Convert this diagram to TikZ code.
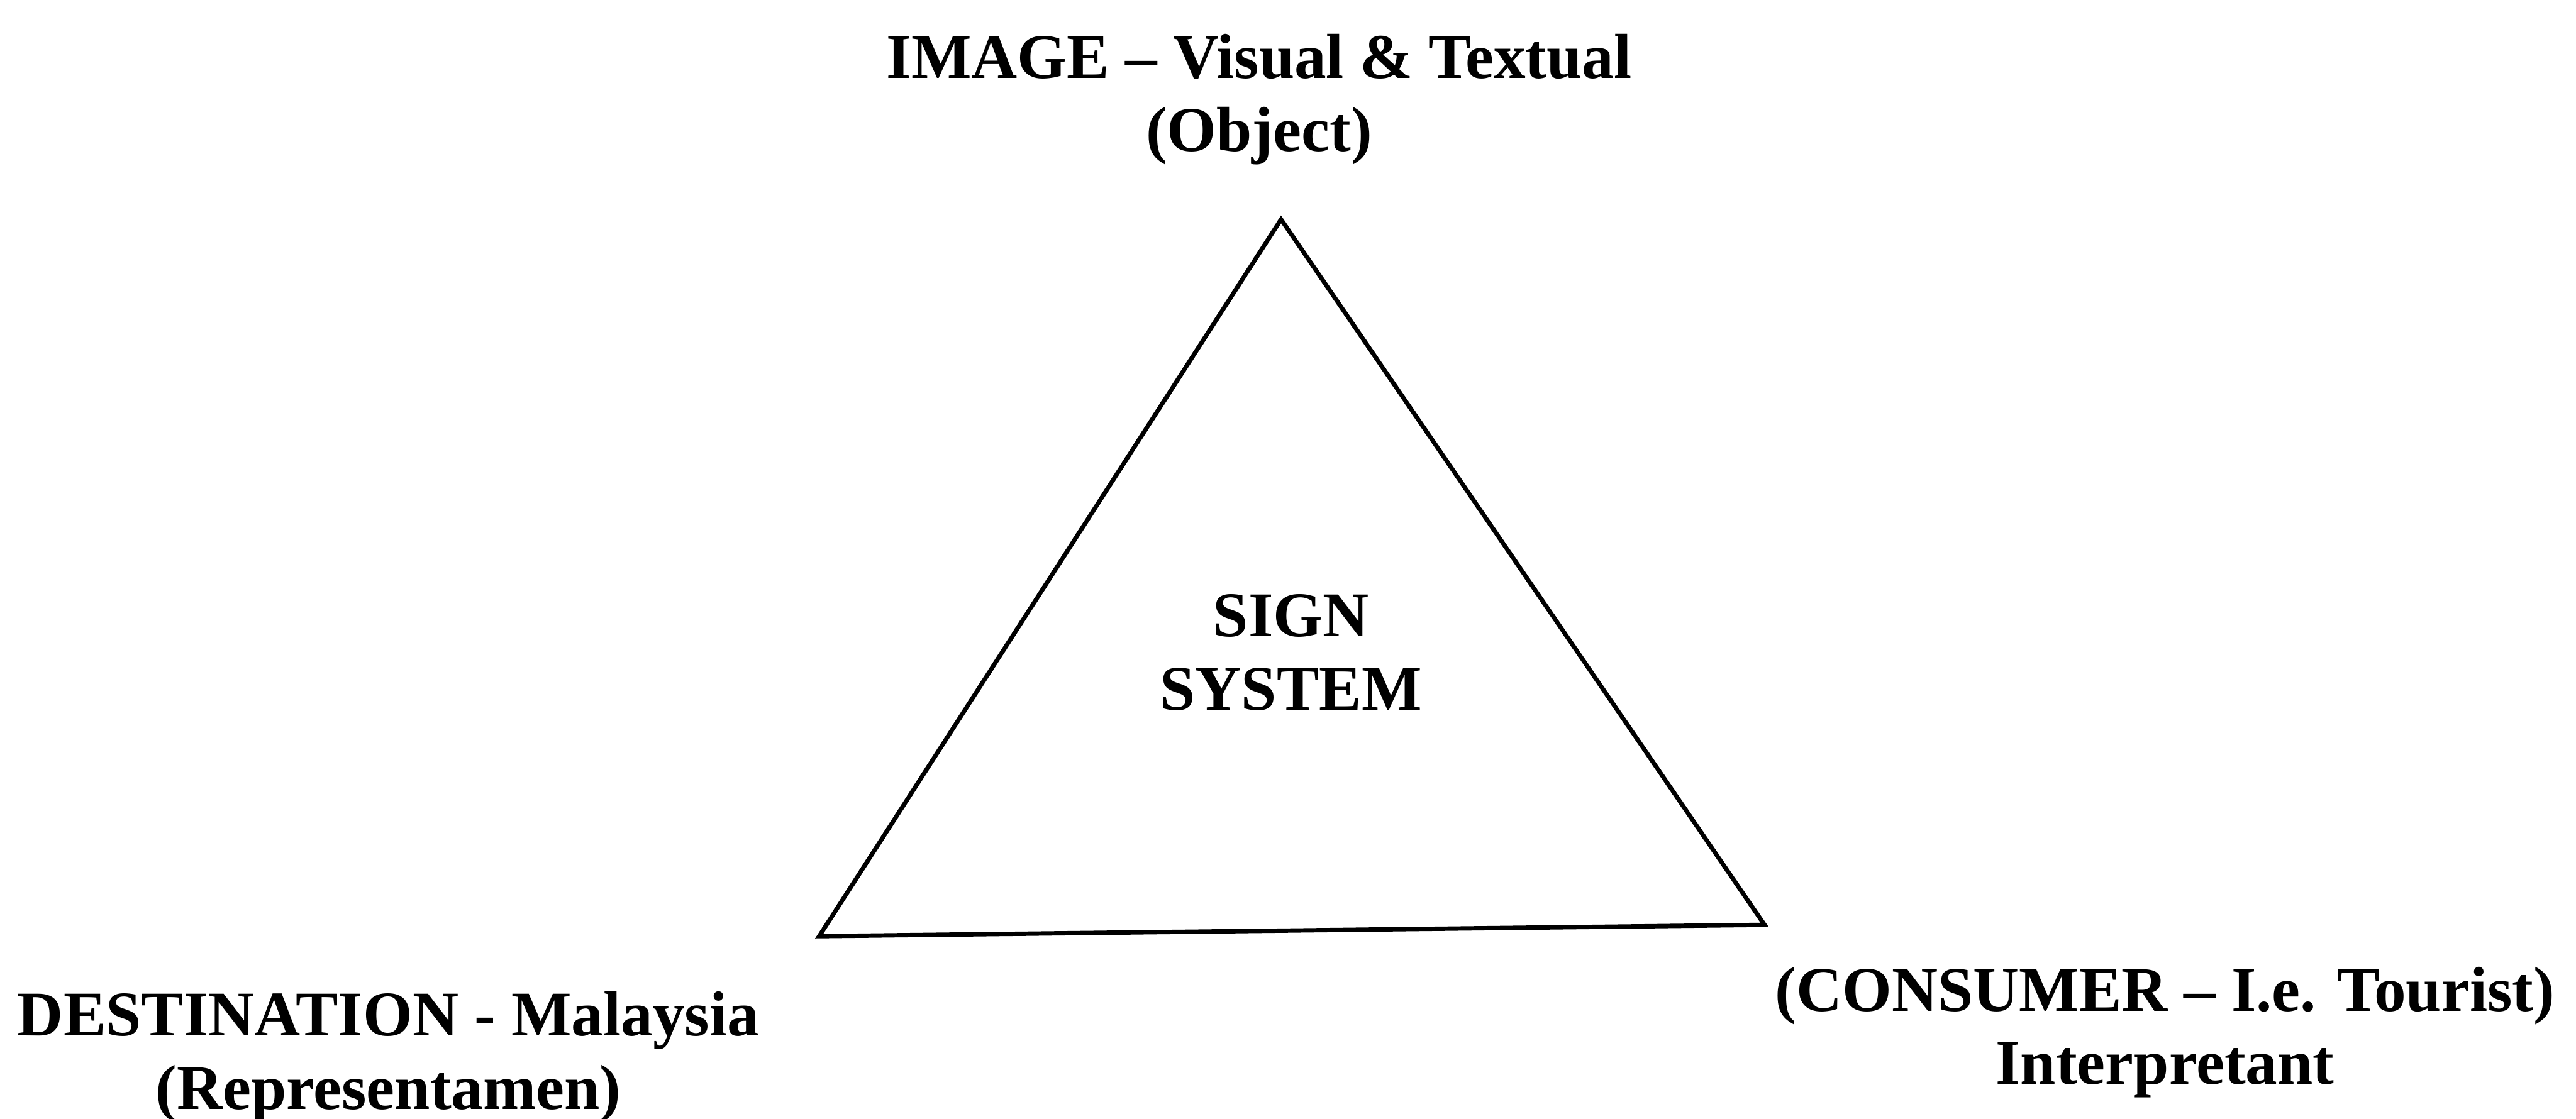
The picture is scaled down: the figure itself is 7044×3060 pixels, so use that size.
\documentclass[tikz,border=0pt]{standalone}
\usepackage{fontspec}
\setmainfont{Liberation Serif}
\begin{document}
\begin{tikzpicture}[x=0.01cm,y=-0.01cm,
  lbl/.style={font=\fontsize{49.5pt}{57pt}\selectfont\bfseries, align=center, anchor=base, inner sep=0pt},
  edge/.style={line width=3.4pt, line join=miter, black}]
  \useasboundingbox (0,0) rectangle (7044,3060);
  % vertices of the semiotic triangle
  \coordinate (top) at (3503,600);
  \coordinate (bl) at (2240,2561);
  \coordinate (br) at (4825,2530);
  \draw[edge] (top) -- (br) -- (bl) -- cycle;
  % corner and centre labels (anchored on the baseline of their last line)
  \node[lbl] (object) at (3443,414) {IMAGE – Visual \& Textual\\(Object)};
  \node[lbl] (sign) at (3530,1942) {SIGN\\SYSTEM};
  \node[lbl] (repr) at (1062,3034) {DESTINATION - Malaysia\\(Representamen)};
  \node[lbl] (interp) at (5920,2966) {(CONSUMER – I.e. Tourist)\\Interpretant};
\end{tikzpicture}
\end{document}
